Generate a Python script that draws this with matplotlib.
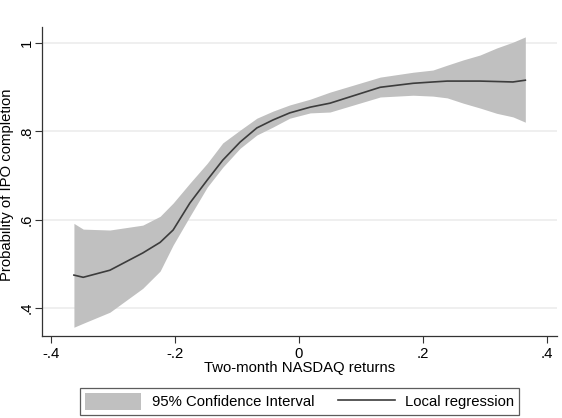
import matplotlib
matplotlib.use('Agg')
import matplotlib.pyplot as plt
from matplotlib.patches import Patch
from matplotlib.lines import Line2D

plt.rcParams['font.family'] = ['Liberation Sans', 'DejaVu Sans']

# values
x_ret = [-0.363, -0.348, -0.305, -0.252, -0.224, -0.203, -0.176, -0.148,
         -0.123, -0.095, -0.068, -0.042, -0.015, 0.018, 0.050, 0.131,
         0.184, 0.216, 0.239, 0.265, 0.292, 0.319, 0.345, 0.365]
fit = [0.475, 0.470, 0.486, 0.525, 0.549, 0.577, 0.638, 0.690,
       0.735, 0.776, 0.808, 0.826, 0.842, 0.855, 0.864, 0.900,
       0.909, 0.912, 0.914, 0.914, 0.914, 0.913, 0.912, 0.916]
ci_hi = [0.592, 0.579, 0.577, 0.588, 0.608, 0.638, 0.683, 0.728,
         0.774, 0.803, 0.830, 0.846, 0.860, 0.873, 0.889, 0.923,
         0.934, 0.939, 0.950, 0.962, 0.973, 0.989, 1.002, 1.014]
ci_lo = [0.357, 0.366, 0.391, 0.445, 0.484, 0.543, 0.608, 0.674,
         0.719, 0.762, 0.792, 0.810, 0.830, 0.842, 0.844, 0.878,
         0.882, 0.880, 0.876, 0.864, 0.853, 0.841, 0.833, 0.821]

xticks = [-0.4, -0.2, 0, 0.2, 0.4]
xtick_labels = ['-.4', '-.2', '0', '.2', '.4']
yticks = [0.4, 0.6, 0.8, 1.0]
ytick_labels = ['.4', '.6', '.8', '1']

band_col = '#c0c0c0'
line_col = '#3c3c3c'
fs = 10.7

fig = plt.figure(figsize=(5.62, 4.18), dpi=100)
ax = fig.add_axes([0.0747, 0.196, 0.9163, 0.739])

ax.fill_between(x_ret, ci_lo, ci_hi, color=band_col, linewidth=0)
ax.plot(x_ret, fit, color=line_col, linewidth=1.2)

ax.set_xlim(-0.4145, 0.416)
ax.set_ylim(0.337, 1.036)
ax.set_xticks(xticks)
ax.set_xticklabels(xtick_labels)
ax.set_yticks(yticks)
ax.set_yticklabels(ytick_labels, rotation=90, va='center')
ax.tick_params(direction='out', length=5, width=0.8, colors='#333333',
               labelsize=fs, labelcolor='black')
ax.tick_params(axis='x', pad=3)
ax.tick_params(axis='y', pad=1)
ax.grid(axis='y', color='#ececec', linewidth=1.2)
ax.set_axisbelow(True)
for side in ['top', 'right']:
    ax.spines[side].set_visible(False)
for side in ['left', 'bottom']:
    ax.spines[side].set_color('#333333')
    ax.spines[side].set_linewidth(0.9)

ax.set_xlabel('Two-month NASDAQ returns', fontsize=fs, labelpad=0)
ax.set_ylabel('Probability of IPO completion', fontsize=fs, va='center')
ax.yaxis.set_label_coords(-0.067, 0.489)

handles = [Patch(facecolor=band_col, edgecolor='none'),
           Line2D([], [], color=line_col, linewidth=1.2)]
leg = fig.legend(handles, ['95% Confidence Interval', 'Local regression'],
                 loc='center', bbox_to_anchor=(0.533, 0.0395), ncol=2,
                 fontsize=fs, frameon=True, fancybox=False,
                 handlelength=3.8, handleheight=1.3, handletextpad=0.7,
                 columnspacing=1.6, borderpad=0.35)
leg.get_frame().set_edgecolor('#333333')
leg.get_frame().set_linewidth(0.9)

fig.savefig('out.png', dpi=100, facecolor='white')
